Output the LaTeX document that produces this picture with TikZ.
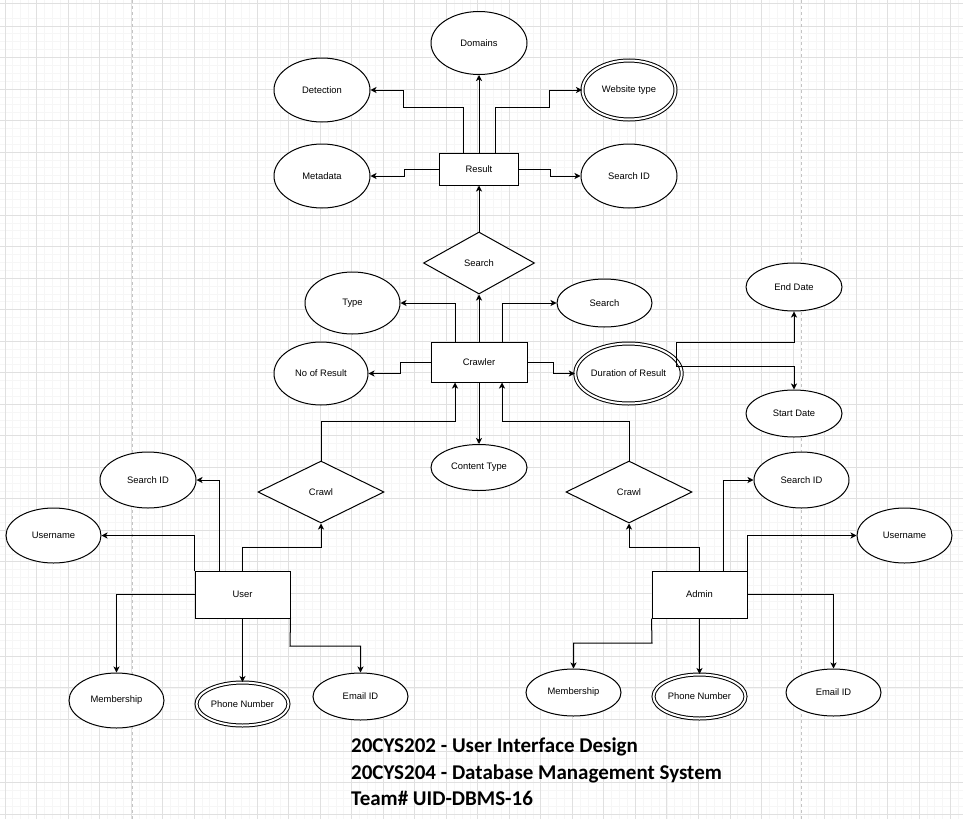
\documentclass[tikz,border=0pt]{standalone}
\usepackage{fontspec}
\setmainfont{Liberation Sans}
\newfontfamily\calibri{Carlito}
\usetikzlibrary{shapes.geometric,arrows.meta}

\definecolor{gridmajor}{gray}{0.88}
\definecolor{gridminor}{gray}{0.965}
\definecolor{pagebreak}{gray}{0.77}

\tikzset{
  base/.style={draw=black, line width=1pt, fill=white, inner sep=0pt,
    font=\fontsize{9.4}{11}\selectfont},
  attr/.style={base, ellipse},
  multi/.style={base, ellipse, double=white, double distance=2pt, line width=1pt},
  entity/.style={base, rectangle},
  rel/.style={base, diamond},
  sz/.style 2 args={minimum width=#1pt, minimum height=#2pt},
  arr/.style={draw=black, line width=1pt,
    -{Stealth[length=6pt,width=6pt,inset=1.6pt]}},
  title/.style={font=\calibri\bfseries\fontsize{21}{25}\selectfont,
    anchor=base west, inner sep=0pt},
}

\begin{document}
\begin{tikzpicture}[x=1pt,y=-1pt]
% canvas
\fill[white] (0,0) rectangle (963,819);
\useasboundingbox (0,0) rectangle (963,819);

% background grid: fine lines every 7.88, heavier every 31.52
\begin{scope}
\clip (0,0) rectangle (963,819);
\foreach \i in {-1,...,123} {
  \draw[gridminor, line width=0.8pt] ({5+7.88*\i},0) -- ({5+7.88*\i},819);
}
\foreach \i in {-1,...,105} {
  \draw[gridminor, line width=0.8pt] (0,{26+7.88*\i}) -- (963,{26+7.88*\i});
}
\foreach \i in {0,...,30} {
  \draw[gridmajor, line width=0.9pt] ({5+31.52*\i},0) -- ({5+31.52*\i},819);
}
\foreach \i in {-1,...,25} {
  \draw[gridmajor, line width=0.9pt] (0,{26+31.52*\i}) -- (963,{26+31.52*\i});
}
\draw[gridmajor, line width=1pt] (0,3) -- (963,3);
\draw[pagebreak, line width=1pt, dash pattern=on 3pt off 3pt] (132,0) -- (132,819);
\draw[pagebreak, line width=1pt, dash pattern=on 3pt off 3pt] (801.5,0) -- (801.5,819);
\end{scope}

% ---- Result entity and its attributes
\node[entity, sz={79}{32}] (res) at (479,169) {Result};
\node[attr, sz={96}{63}] (dom) at (479,43) {Domains};
\node[attr, sz={96}{64}] (det) at (322,90) {Detection};
\node[multi, sz={93}{59}] (web) at (629,90) {Website type};
\node[attr, sz={96}{64}] (meta) at (322,176) {Metadata};
\node[attr, sz={96}{64}] (sid) at (629,176) {Search ID};

% ---- Search relationship and Crawler entity
\node[rel, sz={111}{62}] (srch) at (479,263) {Search};
\node[entity, sz={96}{40}] (crw) at (479,362) {Crawler};
\node[attr, sz={95}{62}] (type) at (352.5,303) {Type};
\node[attr, sz={95}{48}] (srch2) at (604.5,303) {Search};
\node[attr, sz={94}{63}] (nor) at (321,373.5) {No of Result};
\node[multi, sz={92}{60}] (dur) at (628.5,373.5) {Duration of Result};
\node[attr, sz={96}{46}] (ct) at (479,467.5) {Content Type};
\node[attr, sz={96}{48}] (end) at (794,287) {End Date};
\node[attr, sz={96}{47}] (start) at (794,413.5) {Start Date};

% ---- User side
\node[rel, sz={126}{62}] (crawlL) at (321,492) {Crawl};
\node[entity, sz={95}{47}] (user) at (242.5,594.5) {User};
\node[attr, sz={96}{56}] (usid) at (148,480) {Search ID};
\node[attr, sz={95}{55}] (uname) at (53.5,535.5) {Username};
\node[attr, sz={95}{55}] (umem) at (116.5,700.5) {Membership};
\node[multi, sz={92}{43}] (uph) at (242.5,704) {Phone Number};
\node[attr, sz={95}{47}] (uem) at (360.5,696.5) {Email ID};

% ---- Admin side
\node[rel, sz={126}{62}] (crawlR) at (629,492) {Crawl};
\node[entity, sz={95}{47}] (admin) at (699.5,594.5) {Admin};
\node[attr, sz={95}{56}] (asid) at (801.5,480) {Search ID};
\node[attr, sz={95}{55}] (aname) at (904.5,535.5) {Username};
\node[attr, sz={95}{47}] (amem) at (573.5,692.5) {Membership};
\node[multi, sz={92}{44}] (aph) at (699.5,696.5) {Phone Number};
\node[attr, sz={95}{47}] (aem) at (833.5,692.5) {Email ID};

% ---- connectors: Result
\draw[arr] ([xshift=-15.5pt]res.north) |- (403,107) |- (det.east);
\draw[arr] (res.north) -- (dom.south);
\draw[arr] ([xshift=16pt]res.north) |- (549,107) |- (web.west);
\draw[arr] (res.west) -| (404,176) -- (meta.east);
\draw[arr] (res.east) -| (550,176) -- (sid.west);
\draw[arr] (srch.north) -- (res.south);

% ---- connectors: Crawler
\draw[arr] (crw.north) -- (srch.south);
\draw[arr] ([xshift=-24pt]crw.north) |- (type.east);
\draw[arr] ([xshift=23pt]crw.north) |- (srch2.west);
\draw[arr] (crw.west) -| (400,373.5) -- (nor.east);
\draw[arr] (crw.east) -| (553,373.5) -- (dur.west);
\draw[arr] (crw.south) -- (ct.north);
\draw[arr] (crawlL.north) -- (321,421) -| ([xshift=-24pt]crw.south);
\draw[arr] (crawlR.north) -- (629,421) -| ([xshift=23pt]crw.south);
\coordinate (durout) at (676,366);
\draw[arr] (durout) -- (676,342) -| (end.south);
\draw[arr] (durout) -| (start.north);

% ---- connectors: User
\draw[arr] ([xshift=-23.5pt]user.north) |- (usid.east);
\draw[arr] (user.north west) |- (uname.east);
\draw[arr] (user.north) -- (242.5,547) -| (crawlL.south);
\draw[arr] (user.west) -| (umem.north);
\draw[arr] (user.south) -- (uph.north);
\draw[arr] (user.south east) -- (290,646) -| (uem.north);

% ---- connectors: Admin
\draw[arr] (admin.north) -- (699.5,547) -| (crawlR.south);
\draw[arr] ([xshift=23.5pt]admin.north) |- (asid.west);
\draw[arr] (admin.north east) |- (aname.west);
\draw[arr] (admin.east) -| (aem.north);
\draw[arr] (admin.south west) -- (652,643) -| (amem.north);
\draw[arr] (admin.south) -- (aph.north);

% ---- course caption
\node[title] (t1) at (351,752.5) {20CYS202 - User Interface Design};
\node[title] (t2) at (351,779.5) {20CYS204 - Database Management System};
\node[title] (t3) at (351,805) {Team\# UID-DBMS-16};
\end{tikzpicture}
\end{document}
